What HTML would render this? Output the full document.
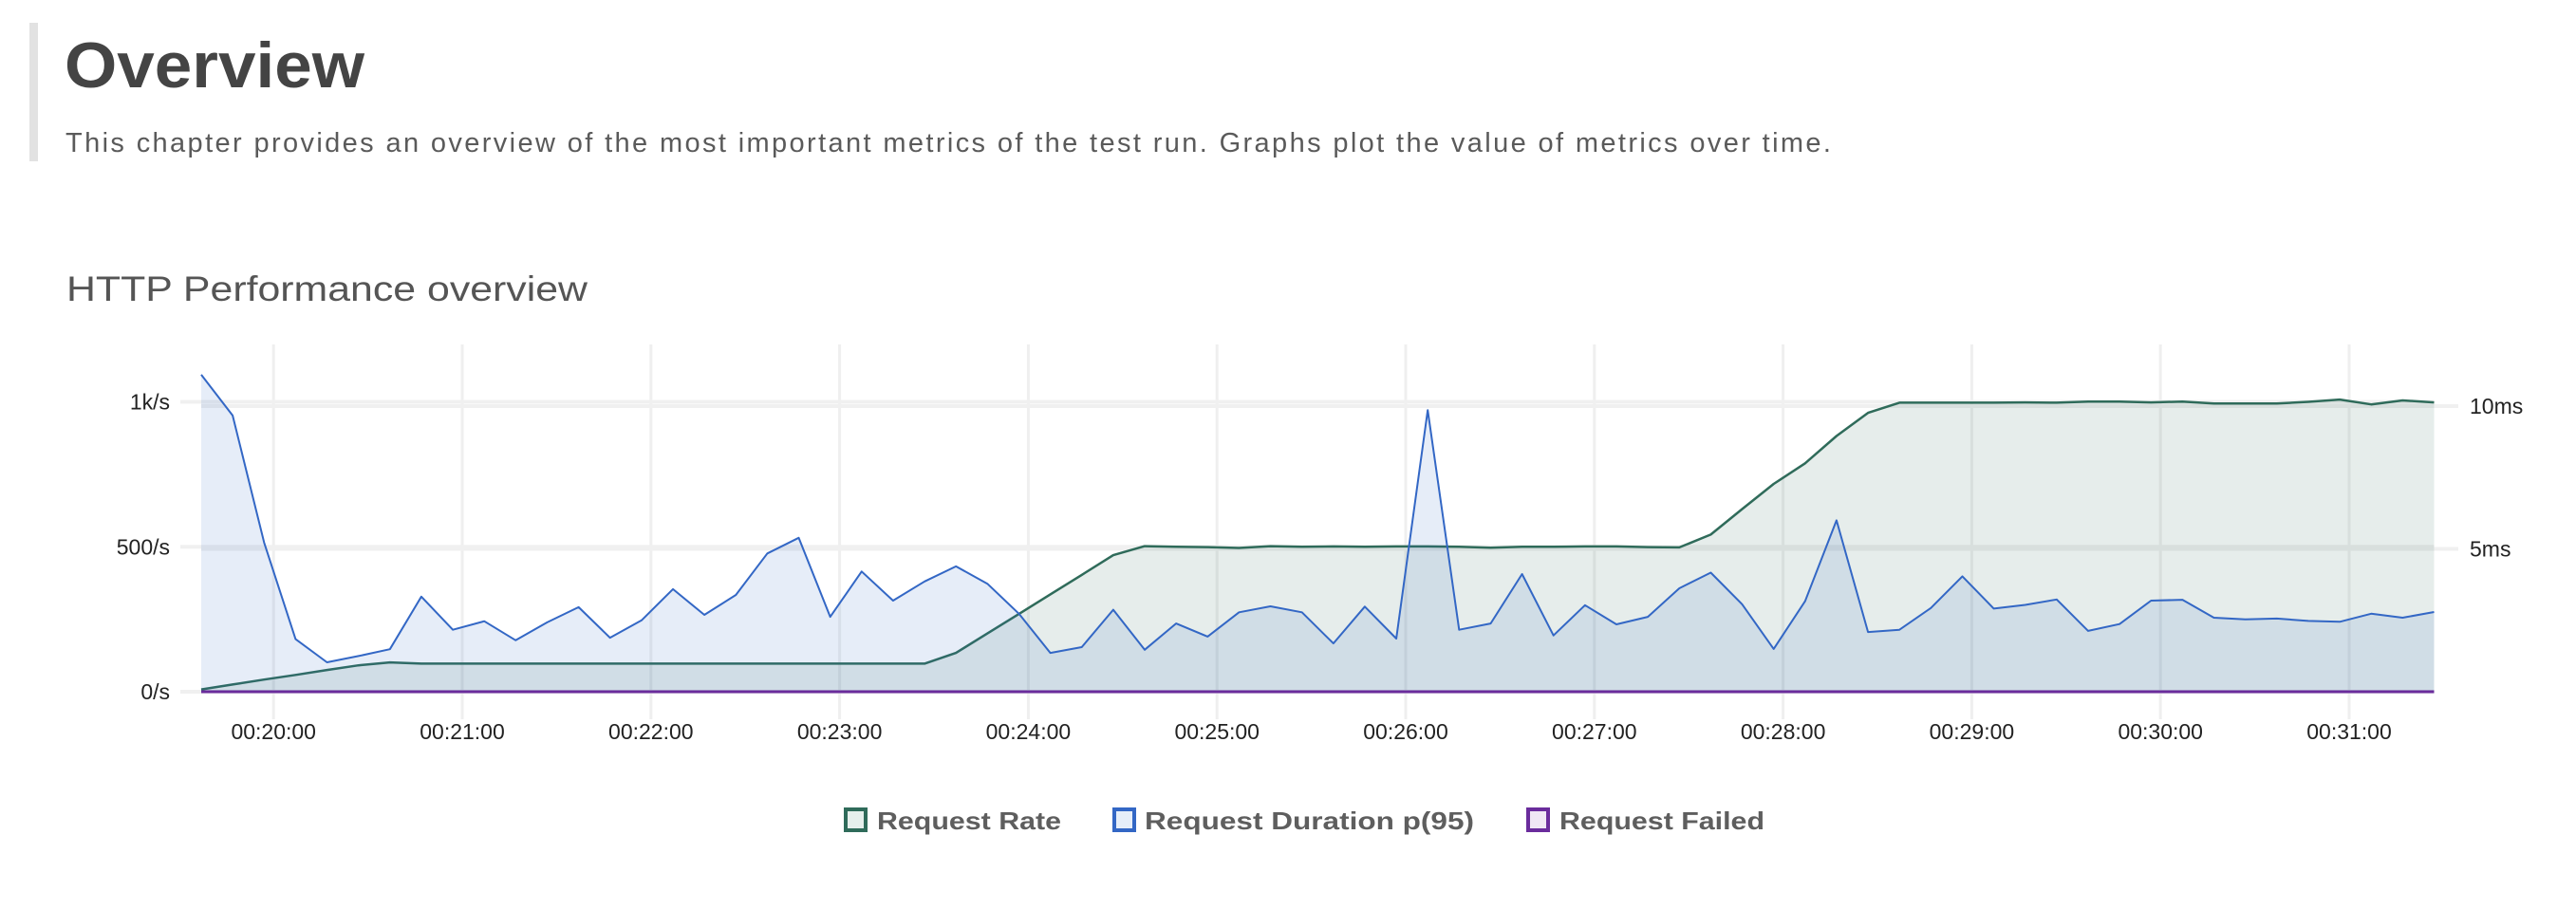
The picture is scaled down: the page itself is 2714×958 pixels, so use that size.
<!DOCTYPE html>
<html><head><meta charset="utf-8"><style>
html,body{margin:0;padding:0;background:#fff;width:2714px;height:958px;overflow:hidden}
svg{display:block;font-family:"Liberation Sans",sans-serif}
</style></head><body>
<svg id="chart" width="2714" height="958" viewBox="0 0 2714 958">
<rect x="31" y="24" width="9" height="146" fill="#e2e2e2"/>
<text x="68" y="92" font-size="68" font-weight="bold" fill="#444" textLength="316" lengthAdjust="spacingAndGlyphs">Overview</text>
<text x="69" y="160" font-size="29" fill="#5a5a5a" textLength="1860" lengthAdjust="spacing">This chapter provides an overview of the most important metrics of the test run. Graphs plot the value of metrics over time.</text>
<text x="70" y="317" font-size="37" fill="#555" textLength="549" lengthAdjust="spacingAndGlyphs">HTTP Performance overview</text>
<g id="grid"></g>
<g id="series"></g>
<g id="axes"></g>
<g id="legend">
<rect x="891" y="853" width="21" height="22" fill="#e6efec" stroke="#2f6b5a" stroke-width="4"/>
<text x="924" y="874" font-size="26" font-weight="bold" fill="#5e5e5e" textLength="194" lengthAdjust="spacingAndGlyphs">Request Rate</text>
<rect x="1174" y="853" width="21" height="22" fill="#e6eef9" stroke="#3367c5" stroke-width="4"/>
<text x="1206" y="874" font-size="26" font-weight="bold" fill="#5e5e5e" textLength="347" lengthAdjust="spacingAndGlyphs">Request Duration p(95)</text>
<rect x="1610" y="853" width="21" height="22" fill="#efe7f4" stroke="#6a2c9c" stroke-width="4"/>
<text x="1643" y="874" font-size="26" font-weight="bold" fill="#5e5e5e" textLength="216" lengthAdjust="spacingAndGlyphs">Request Failed</text>
</g>
</svg>
<script>
// seconds after 00:19:37, 10s step
const requestRate = [8,25,42,58,75,91,101,97,97,97,97,97,97,97,97,97,97,97,97,97,97,97,97,97,134,201,268,336,403,471,502,500,499,496,502,500,501,500,501,501,500,497,500,500,501,501,499,498,542,630,717,788,882,962,997,997,997,997,998,997,1001,1001,998,1001,994,994,994,1000,1008,991,1005,998];
const requestDuration = [11.1,9.67,5.22,1.84,1.03,1.25,1.49,3.33,2.17,2.47,1.80,2.43,2.96,1.89,2.50,3.59,2.69,3.39,4.84,5.39,2.62,4.21,3.19,3.86,4.39,3.78,2.73,1.36,1.56,2.87,1.47,2.39,1.93,2.78,2.99,2.78,1.69,2.98,1.86,9.86,2.17,2.39,4.12,1.97,3.03,2.36,2.62,3.62,4.17,3.06,1.50,3.17,6.00,2.09,2.17,2.93,4.04,2.91,3.04,3.23,2.13,2.37,3.19,3.22,2.59,2.53,2.56,2.48,2.45,2.73,2.59,2.79];
const requestFailed = requestDuration.map(()=>0);
const leftTicks = [0,500,1000];
const leftTickLabels = ["0/s","500/s","1k/s"];
const rightTicks = [5,10];
const rightTickLabels = ["5ms","10ms"];
const xTicks = [23,83,143,203,263,323,383,443,503,563,623,683];
const xTickLabels = ["00:20:00","00:21:00","00:22:00","00:23:00","00:24:00","00:25:00","00:26:00","00:27:00","00:28:00","00:29:00","00:30:00","00:31:00"];

const NS="http://www.w3.org/2000/svg";
const X0=212, PX_PER_S=198.8/60;
const x = s => X0 + s*PX_PER_S;
const yL = v => 729 - v*0.3055;
const yR = v => 729 - v*30.1;
function mk(tag, attrs, parent){const e=document.createElementNS(NS,tag);for(const k in attrs)e.setAttribute(k,attrs[k]);parent.appendChild(e);return e;}
const grid=document.getElementById('grid'), series=document.getElementById('series'), axes=document.getElementById('axes');
const xEnd = x((requestRate.length-1)*10);

xTicks.forEach((t,i)=>{
  const l=mk('line',{x1:x(t),x2:x(t),y1:363,y2:758,stroke:'#efefef','stroke-width':3},grid);
  
  
  const tx=mk('text',{x:x(t),y:779,'font-size':23,'text-anchor':'middle',fill:'#222'},axes);
  tx.textContent=xTickLabels[i];
  
  
});
leftTicks.forEach((v,i)=>{
  const l=mk('line',{x1:190,x2:xEnd,y1:yL(v),y2:yL(v),stroke:'#f0f0f0','stroke-width':4},grid);
  
  
  const tx=mk('text',{x:179,y:yL(v)+8,'font-size':23,'text-anchor':'end',fill:'#222'},axes);
  tx.textContent=leftTickLabels[i];
  
  
});
rightTicks.forEach((v,i)=>{
  const l=mk('line',{x1:X0,x2:2590,y1:yR(v),y2:yR(v),stroke:'#f0f0f0','stroke-width':4},grid);
  
  
  const tx=mk('text',{x:2602,y:yR(v)+8,'font-size':23,fill:'#222'},axes);
  tx.textContent=rightTickLabels[i];
  
  
});

function area(data, yf, stroke, fill, name, w){
  const pts=data.map((v,i)=>x(i*10).toFixed(1)+','+yf(v).toFixed(1));
  const a=mk('path',{d:'M'+x(0)+','+yf(0)+' L'+pts.join(' L')+' L'+xEnd+','+yf(0)+'Z',fill:fill,stroke:'none'},series);
  
  
  const l=mk('polyline',{points:pts.join(' '),fill:'none',stroke:stroke,'stroke-width':w,'stroke-linejoin':'round'},series);
  
  
}
area(requestRate, yL, '#2f6b5a', 'rgba(47,107,90,0.12)', 'request-rate', 2.5);
area(requestDuration, yR, '#3367c5', 'rgba(51,103,197,0.12)', 'request-duration', 2);
area(requestFailed, yL, '#6a2c9c', 'rgba(106,44,156,0.1)', 'request-failed', 3);
</script>
</body></html>
